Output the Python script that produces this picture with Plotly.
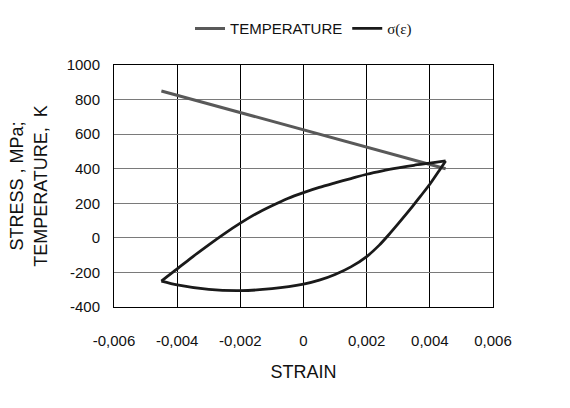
import plotly.graph_objects as go

# Temperature line (strain, K)
temp_strain = [-0.0045, 0.0045]
temp_values = [850, 400]

# Stress-strain hysteresis loop, loading branch (strain, MPa)
load_strain = [-0.0045, -0.0040, -0.0035, -0.0030, -0.0025, -0.0020, -0.0015, -0.0010,
               -0.0005, 0.0000, 0.0005, 0.0010, 0.0015, 0.0020, 0.0025, 0.0030,
               0.0035, 0.0040, 0.0045]
load_stress = [-250, -180, -108, -40, 25, 85, 140, 186,
               228, 262, 292, 318, 343, 368, 388, 405,
               420, 432, 445]

# Unloading branch back to the start (strain, MPa)
unload_strain = [0.0045, 0.0043, 0.0040, 0.0037, 0.0034, 0.0030, 0.0027, 0.0024,
                 0.0020, 0.0015, 0.0010, 0.0005, 0.0000, -0.0010, -0.0020, -0.0030,
                 -0.0040, -0.0045]
unload_stress = [445, 390, 310, 240, 170, 82, 18, -42,
                 -108, -168, -212, -245, -268, -294, -305, -298,
                 -272, -250]

x_tickvals = [-0.006, -0.004, -0.002, 0, 0.002, 0.004, 0.006]
x_ticktext = ["-0,006", "-0,004", "-0,002", "0", "0,002", "0,004", "0,006"]
y_tickvals = [-400, -200, 0, 200, 400, 600, 800, 1000]
y_ticktext = ["-400", "-200", "0", "200", "400", "600", "800", "1000"]

fig = go.Figure()
fig.add_trace(go.Scatter(x=temp_strain, y=temp_values, mode="lines", name="TEMPERATURE",
                         line=dict(color="#595959", width=3)))
fig.add_trace(go.Scatter(x=load_strain, y=load_stress, mode="lines",
                         name="<span style='font-family:Liberation Serif'>σ(ε)</span>",
                         legendgroup="s",
                         line=dict(color="#1a1a1a", width=2.8, shape="spline", smoothing=0.7)))
fig.add_trace(go.Scatter(x=unload_strain, y=unload_stress, mode="lines",
                         legendgroup="s", showlegend=False,
                         line=dict(color="#1a1a1a", width=2.8, shape="spline", smoothing=0.7)))

fig.update_layout(
    width=570, height=408,
    margin=dict(l=114, r=77, t=55, b=101),
    paper_bgcolor="white", plot_bgcolor="white",
    font=dict(family="Liberation Sans, Arial, sans-serif", size=15, color="#111111"),
    legend=dict(orientation="h", x=0.5, xanchor="center", y=1.15, yanchor="middle",
                itemwidth=30, font=dict(size=15), bgcolor="rgba(0,0,0,0)"),
    showlegend=True,
)
fig.update_xaxes(range=[-0.006, 0.006], tickvals=x_tickvals, ticktext=x_ticktext,
                 showgrid=True, gridcolor="#000000", gridwidth=1,
                 showline=True, linecolor="#000000", linewidth=1, mirror=True,
                 zeroline=False, ticks="", ticklabelstandoff=20,
                 title=dict(text="STRAIN", standoff=17))
fig.update_yaxes(range=[-400, 1000], tickvals=y_tickvals, ticktext=y_ticktext,
                 showgrid=True, gridcolor="#7a7a7a", gridwidth=1,
                 showline=True, linecolor="#000000", linewidth=1, mirror=True,
                 zeroline=False, ticks="", ticklabelstandoff=10,
                 title=dict(text="STRESS , MPa;<br>TEMPERATURE,  K", standoff=14))

fig.write_html("out.html")
